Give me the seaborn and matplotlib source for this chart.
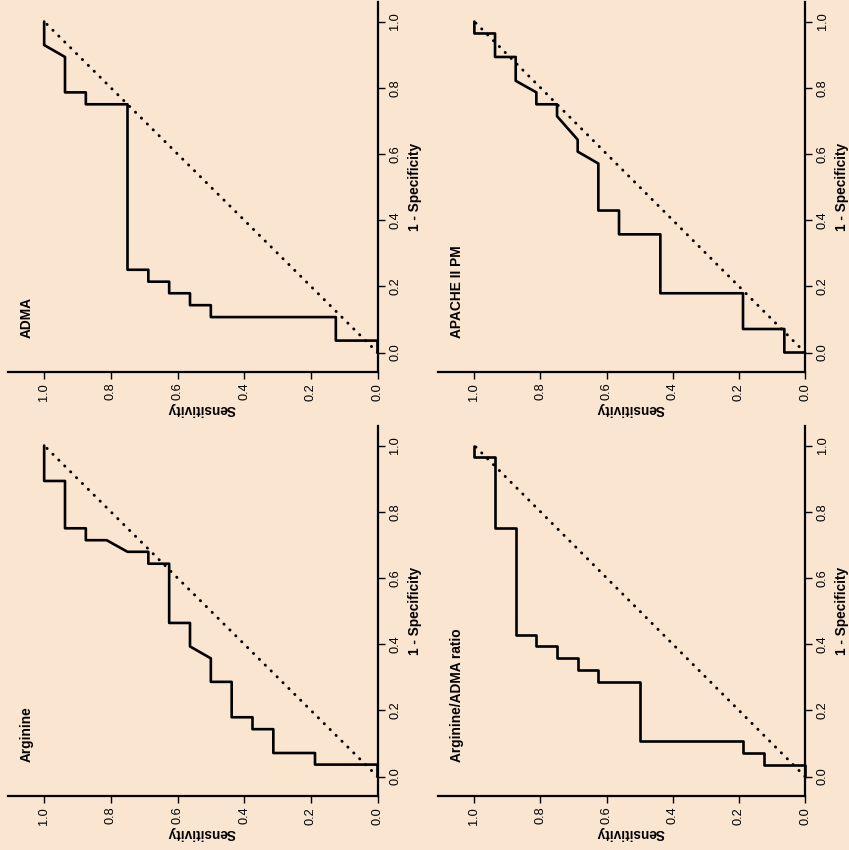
import matplotlib
matplotlib.use("Agg")
import matplotlib.pyplot as plt
import seaborn as sns

# panel titles in reading order: top-left, top-right, bottom-left, bottom-right
titles = ["ADMA", "APACHE II PM", "Arginine", "Arginine/ADMA ratio"]

# ROC step points (1 - specificity, sensitivity)
adma_fpr = [0, 0.036, 0.036, 0.107, 0.107, 0.143, 0.143, 0.179, 0.179, 0.214,
            0.214, 0.25, 0.25, 0.75, 0.75, 0.786, 0.786, 0.893, 0.929, 1.0]
adma_sens = [0, 0, 0.125, 0.125, 0.5, 0.5, 0.5625, 0.5625, 0.625, 0.625,
             0.6875, 0.6875, 0.75, 0.75, 0.875, 0.875, 0.9375, 0.9375, 1.0, 1.0]

apache_fpr = [0, 0, 0.071, 0.071, 0.179, 0.179, 0.357, 0.357, 0.429, 0.429,
              0.571, 0.607, 0.643, 0.714, 0.75, 0.75, 0.786, 0.821, 0.893, 0.893,
              0.964, 0.964, 1.0]
apache_sens = [0, 0.0625, 0.0625, 0.1875, 0.1875, 0.4375, 0.4375, 0.5625, 0.5625, 0.625,
               0.625, 0.6875, 0.6875, 0.75, 0.75, 0.8125, 0.8125, 0.875, 0.875, 0.9375,
               0.9375, 1.0, 1.0]

arg_fpr = [0, 0.036, 0.036, 0.071, 0.071, 0.143, 0.143, 0.179, 0.179, 0.286,
           0.286, 0.357, 0.393, 0.464, 0.464, 0.643, 0.643, 0.679, 0.679, 0.714,
           0.714, 0.75, 0.75, 0.893, 0.893, 1.0]
arg_sens = [0, 0, 0.1875, 0.1875, 0.3125, 0.3125, 0.375, 0.375, 0.4375, 0.4375,
            0.5, 0.5, 0.5625, 0.5625, 0.625, 0.625, 0.6875, 0.6875, 0.75, 0.8125,
            0.875, 0.875, 0.9375, 0.9375, 1.0, 1.0]

ratio_fpr = [0, 0.036, 0.036, 0.071, 0.071, 0.107, 0.107, 0.286, 0.286, 0.321,
             0.321, 0.357, 0.357, 0.393, 0.393, 0.429, 0.429, 0.75, 0.75, 0.964,
             0.964, 1.0]
ratio_sens = [0, 0, 0.125, 0.125, 0.1875, 0.1875, 0.5, 0.5, 0.625, 0.625,
              0.6875, 0.6875, 0.75, 0.75, 0.8125, 0.8125, 0.875, 0.875, 0.9375, 0.9375,
              1.0, 1.0]

diag = [0, 1]
ticks = [0.0, 0.2, 0.4, 0.6, 0.8, 1.0]

bg = "#fae5d0"
sns.set_style("ticks")
plt.rcParams["font.family"] = ["Liberation Sans", "DejaVu Sans"]
plt.rcParams.update({"text.color": "black", "xtick.color": "black", "ytick.color": "black",
                     "axes.edgecolor": "black", "axes.labelcolor": "black"})

W, H = 849, 850
fig = plt.figure(figsize=(W / 100, H / 100), dpi=100, facecolor=bg)

# the whole figure is shown turned a quarter turn: sensitivity runs right-to-left
# along the bottom, 1 - specificity runs upward along the right edge
panels = [
    (titles[0], adma_fpr, adma_sens, 7.5, 370, 371.7),
    (titles[1], apache_fpr, apache_sens, 438, 367, 371.7),
    (titles[2], arg_fpr, arg_sens, 7.5, 370, 795.7),
    (titles[3], ratio_fpr, ratio_sens, 438, 367, 795.7),
]

for title, fpr, sens, left_px, w_px, bottom_px in panels:
    ax = fig.add_axes([left_px / W, (H - bottom_px) / H, w_px / W, 370 / H])
    ax.set_facecolor(bg)

    sns.lineplot(x=diag, y=diag, ax=ax, color="black", lw=2.1,
                 linestyle=(0, (0.1, 2.75)), dash_capstyle="round")
    sns.lineplot(x=sens, y=fpr, ax=ax, sort=False, estimator=None,
                 color="black", lw=1.9, clip_on=False)

    ax.set_xlim(1.11, 0)
    ax.set_ylim(-0.058, 1.06)
    ax.set_xticks(ticks)
    ax.set_yticks(ticks)
    ax.set_xticklabels([f"{t:.1f}" for t in ticks])
    ax.set_yticklabels([f"{t:.1f}" for t in ticks])
    ax.yaxis.tick_right()

    for side in ["top", "left"]:
        ax.spines[side].set_visible(False)
    for side in ["right", "bottom"]:
        ax.spines[side].set_linewidth(1.6)

    ax.tick_params(axis="both", direction="out", length=5, width=1.0,
                   labelsize=9.2, labelrotation=90)
    ax.tick_params(axis="x", pad=3)
    ax.tick_params(axis="y", pad=3.5)
    for lab in ax.get_yticklabels():
        lab.set_verticalalignment("center")

    ax.set_xlabel("")
    ax.set_ylabel("")
    ax.text(0.525, -0.1, "Sensitivity", transform=ax.transAxes, rotation=180,
            ha="center", va="center", fontsize=9.8, fontweight="bold")
    ax.text(1.101, 0.5, "1 - Specificity", transform=ax.transAxes, rotation=90,
            ha="center", va="center", fontsize=9.8, fontweight="bold")
    ax.text(1.052, 0.045, title, rotation=90, ha="center", va="bottom",
            fontsize=9.9, fontweight="bold")

fig.savefig("out.png", dpi=100, facecolor=bg)
